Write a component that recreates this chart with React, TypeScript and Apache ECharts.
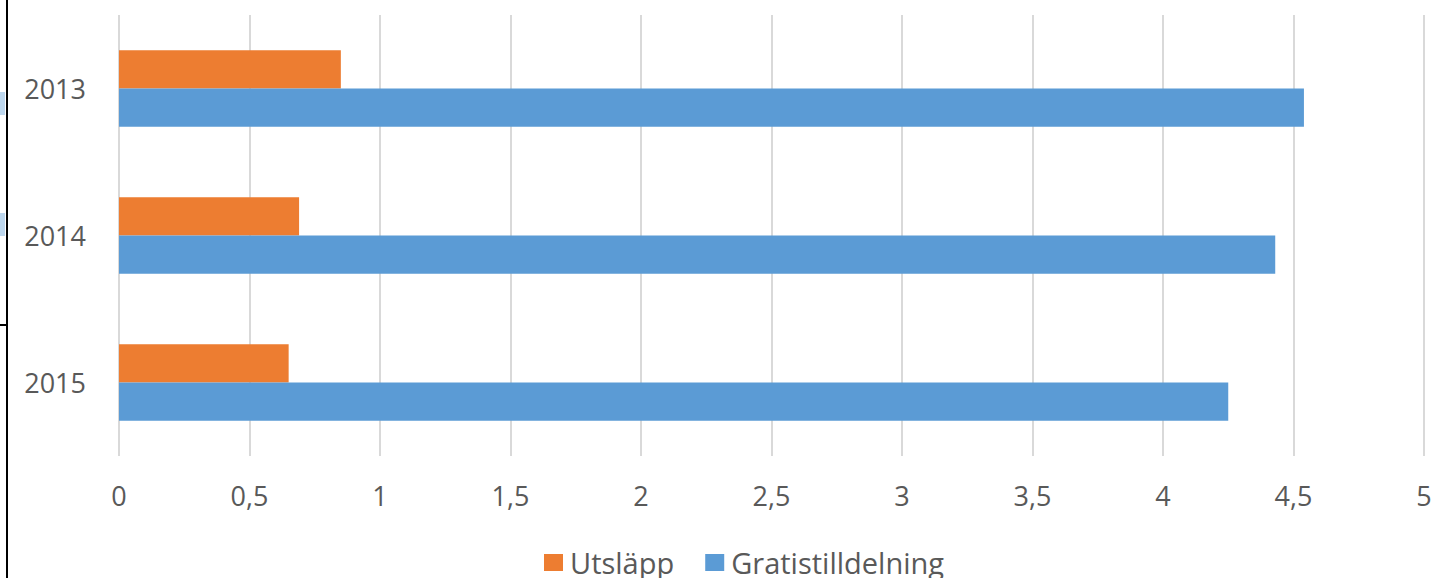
import React, { useEffect, useRef } from "react";
import * as echarts from "echarts";

const years = ["2013", "2014", "2015"];
const utslapp = [0.85, 0.69, 0.65];
const gratis = [4.54, 4.43, 4.25];
const seriesNames = ["Utsläpp", "Gratistilldelning"];
const colors = ["#ED7D31", "#5B9BD5"];

export default function App() {
  const ref = useRef<HTMLDivElement>(null);
  useEffect(() => {
    if (!ref.current) return;
    const chart = echarts.init(ref.current, null, { renderer: "svg" });
    const font = "'Open Sans', sans-serif";
    chart.setOption({
      animation: false,
      backgroundColor: "#ffffff",
      grid: { left: 119, right: 21, top: 15, bottom: 122, containLabel: false },
      legend: {
        data: seriesNames,
        left: 544,
        top: 548,
        padding: 0,
        itemWidth: 19,
        itemHeight: 17,
        itemGap: 31,
        icon: "rect",
        textStyle: { color: "#595959", fontSize: 29, fontFamily: font, padding: [0, 0, 0, 2] },
      },
      xAxis: {
        type: "value",
        min: 0,
        max: 5,
        interval: 0.5,
        axisLine: { show: false },
        axisTick: { show: false },
        splitLine: { show: true, lineStyle: { color: "#d9d9d9", width: 2 } },
        axisLabel: {
          color: "#595959",
          fontSize: 27,
          fontFamily: font,
          margin: 26,
          formatter: (v: number) => String(v).replace(".", ","),
        },
      },
      yAxis: {
        type: "category",
        data: years,
        inverse: true,
        axisLine: { show: false },
        axisTick: { show: false },
        axisLabel: { color: "#595959", fontSize: 27, fontFamily: font, margin: 33 },
      },
      series: [
        {
          name: seriesNames[0],
          type: "bar",
          data: utslapp,
          itemStyle: { color: colors[0] },
          barGap: "0%",
          barCategoryGap: "48%",
        },
        {
          name: seriesNames[1],
          type: "bar",
          data: gratis,
          itemStyle: { color: colors[1] },
          barGap: "0%",
          barCategoryGap: "48%",
        },
      ],
      graphic: [
        { type: "rect", shape: { x: 6, y: 0, width: 2, height: 578 }, style: { fill: "#000" } },
        { type: "rect", shape: { x: 0, y: 324, width: 7, height: 2 }, style: { fill: "#000" } },
        { type: "rect", shape: { x: 0, y: 92, width: 5, height: 23 }, style: { fill: "#BDD7EE" } },
        { type: "rect", shape: { x: 0, y: 213, width: 5, height: 23 }, style: { fill: "#BDD7EE" } },
      ],
    });
    return () => chart.dispose();
  }, []);
  return <div ref={ref} style={{ width: 1445, height: 578, position: "absolute", left: 0, top: 0 }} />;
}
